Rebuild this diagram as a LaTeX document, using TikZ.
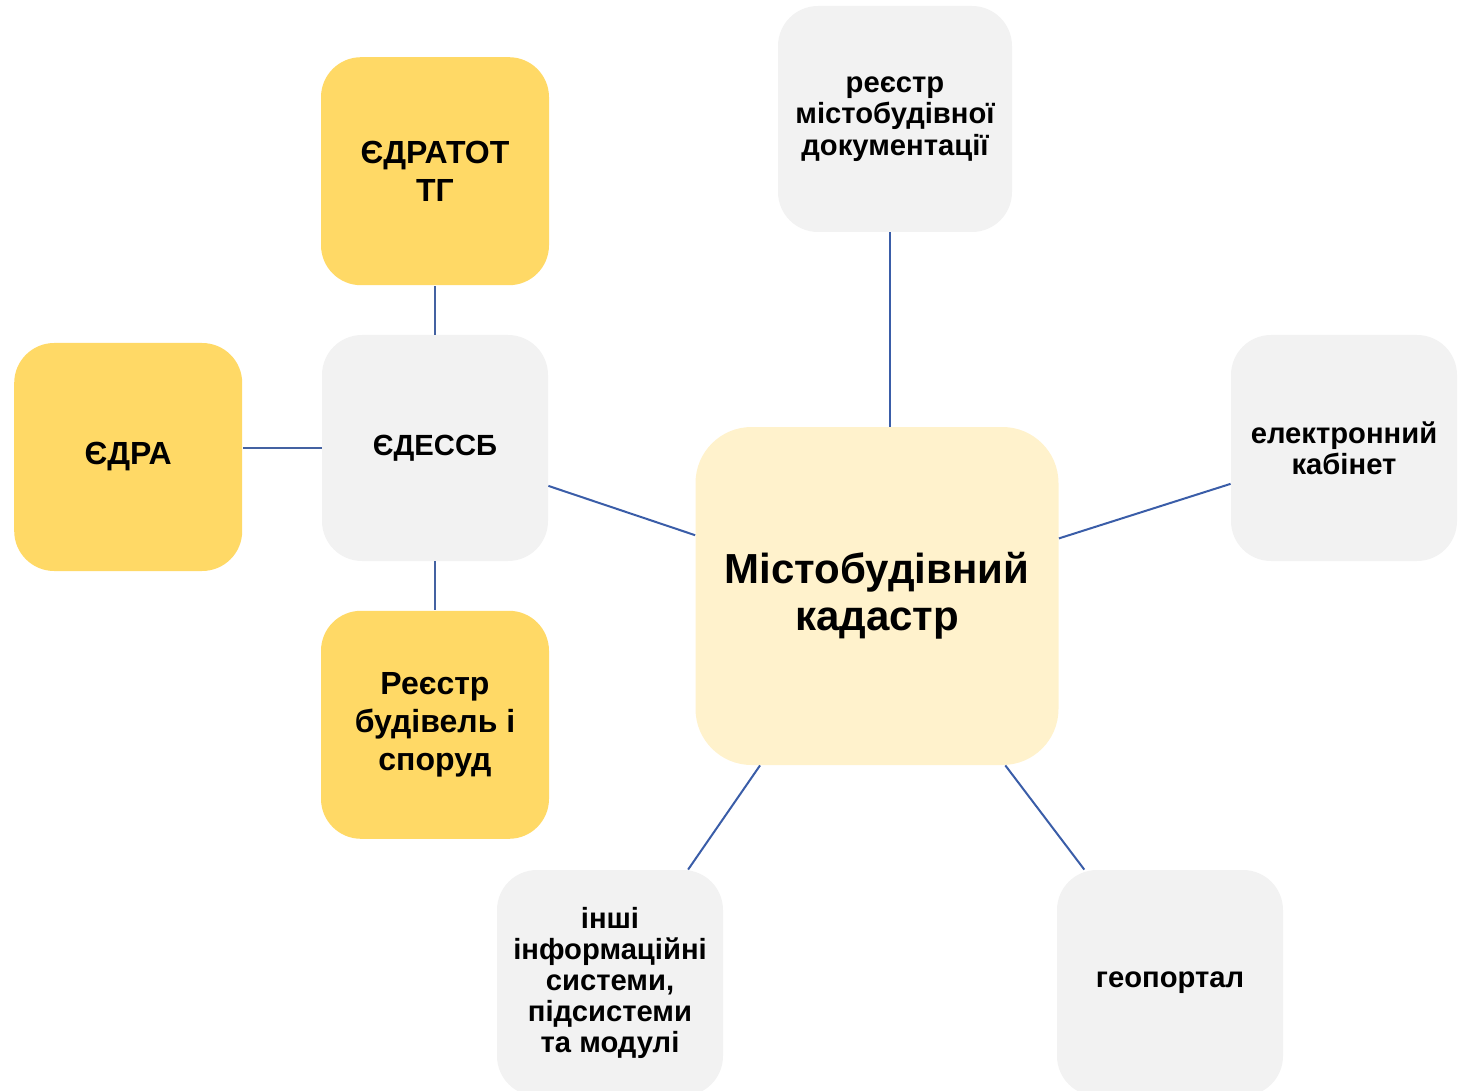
\documentclass[tikz,border=0pt]{standalone}
\usepackage{fontspec}
\setmainfont{Liberation Sans}
\usetikzlibrary{positioning}

\definecolor{sirij}{HTML}{F2F2F2}
\definecolor{zhovtyj}{HTML}{FFD966}
\definecolor{svitlyj}{HTML}{FFF2CC}
\definecolor{liniya}{HTML}{3A5DA8}

\begin{document}
\begin{tikzpicture}[
  x=0.5pt,y=-0.5pt,
  blok/.style={rounded corners=20pt,inner sep=0pt,align=center,
    font=\bfseries\fontsize{14.6}{15.6}\selectfont,
    minimum width=113pt,minimum height=113pt},
  sirblok/.style={blok,fill=sirij},
  zhovblok/.style={blok,fill=zhovtyj,minimum width=114pt,minimum height=114pt,
    font=\bfseries\fontsize{16}{19}\selectfont},
  holovnyj/.style={blok,fill=svitlyj,rounded corners=28pt,
    minimum width=181.5pt,minimum height=169pt,
    font=\bfseries\fontsize{21}{23.5}\selectfont},
  zvjazok/.style={draw=liniya,line width=1pt},
  tonkyj/.style={draw=liniya!85!gray,line width=0.6pt}
  ]

  \useasboundingbox (0,0) rectangle (1468,1091);

  \node[holovnyj] (kadastr) at (877,596) {Містобудівний\\кадастр};
  \node[sirblok,minimum width=117pt] (reestrmd) at (895,119) {реєстр\\містобудівної\\документації};
  \node[sirblok] (kabinet) at (1344,448) {електронний\\кабінет};
  \node[sirblok] (geoportal) at (1170,983) {геопортал};
  \node[sirblok] (inshi) at (610,983) {інші\\інформаційні\\системи,\\підсистеми\\та модулі};

  \node[sirblok] (edessb) at (435,448) {ЄДЕССБ};
  \node[zhovblok,above=24.5pt of edessb] (edratot) {ЄДРАТОТ\\ТГ};
  \node[zhovblok,below=24.5pt of edessb] (budivli) {Реєстр\\будівель і\\споруд};
  \node[zhovblok,left=39.5pt of edessb,yshift=-4.5pt] (edra) {ЄДРА};

  \draw[zvjazok] ([xshift=-2.5pt]reestrmd.south) -- ([xshift=-2.5pt]reestrmd.south |- kadastr.north);
  \draw[zvjazok] (kadastr) -- (edessb);
  \draw[zvjazok] (kadastr) -- (kabinet);
  \draw[zvjazok] (kadastr) -- (geoportal);
  \draw[zvjazok] (kadastr) -- (inshi);

  \draw[tonkyj] (edessb) -- (edratot);
  \draw[tonkyj] (edessb) -- (budivli);
  \draw[tonkyj] (edessb.west) -- (edessb.west -| edra.east);

\end{tikzpicture}
\end{document}
